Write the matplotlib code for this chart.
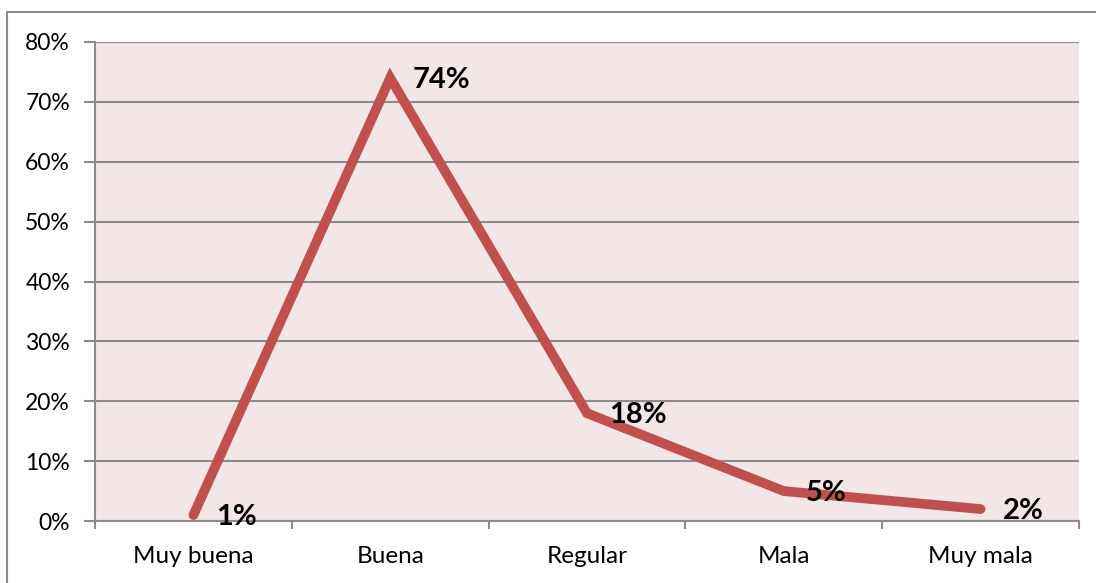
import matplotlib.pyplot as plt
import matplotlib.patches as patches
import numpy as np

categorias = ['Muy buena', 'Buena', 'Regular', 'Mala', 'Muy mala']
porcentajes = [1, 74, 18, 5, 2]
etiquetas_y = ['0%', '10%', '20%', '30%', '40%', '50%', '60%', '70%', '80%']

plt.rcParams['font.family'] = ['Lato', 'DejaVu Sans']

fig = plt.figure(figsize=(10.96, 5.83), dpi=100)
# marco gris del grafico
fig.patches.append(patches.Rectangle((7 / 1096, -0.01), 1.1, 1 - 12 / 583 + 0.01,
                                     transform=fig.transFigure, fill=False,
                                     edgecolor='#8c8c8c', linewidth=1.5))

ax = fig.add_axes([0.0867, 0.1063, 0.8978, 0.8217])
ax.set_facecolor('#F2E6E6')

x = np.arange(len(categorias))
ax.plot(x, porcentajes, color='#C0504D', linewidth=7, solid_capstyle='round',
        solid_joinstyle='miter', zorder=3)

for xi, v in zip(x, porcentajes):
    ax.annotate(f'{v}%', (xi, v), xytext=(16, -1.5), textcoords='offset points',
                ha='left', va='center', fontsize=21, fontweight='bold', zorder=4)

ax.set_xlim(-0.5, len(categorias) - 0.5)
ax.set_ylim(0, 80)
ax.set_yticks(np.arange(0, 81, 10))
ax.set_yticklabels(etiquetas_y, fontsize=16.5)
ax.yaxis.grid(True, color='#8c8c8c', linewidth=1.5)
ax.set_axisbelow(True)

ax.set_xticks(np.arange(-0.5, len(categorias), 1))
ax.set_xticklabels([])
ax.set_xticks(x, minor=True)
ax.set_xticklabels(categorias, minor=True, fontsize=17.5)
ax.tick_params(axis='x', which='minor', length=0, pad=18)
ax.tick_params(axis='x', which='major', length=6, width=1.5, color='#8c8c8c')
ax.tick_params(axis='y', length=8, width=1.5, color='#8c8c8c', pad=10)

for lado in ['top', 'right']:
    ax.spines[lado].set_visible(False)
ax.spines['left'].set_color('#8c8c8c')
ax.spines['left'].set_linewidth(1.5)
ax.spines['bottom'].set_color('#8c8c8c')
ax.spines['bottom'].set_linewidth(1.5)

fig.savefig('out.png', dpi=100)
